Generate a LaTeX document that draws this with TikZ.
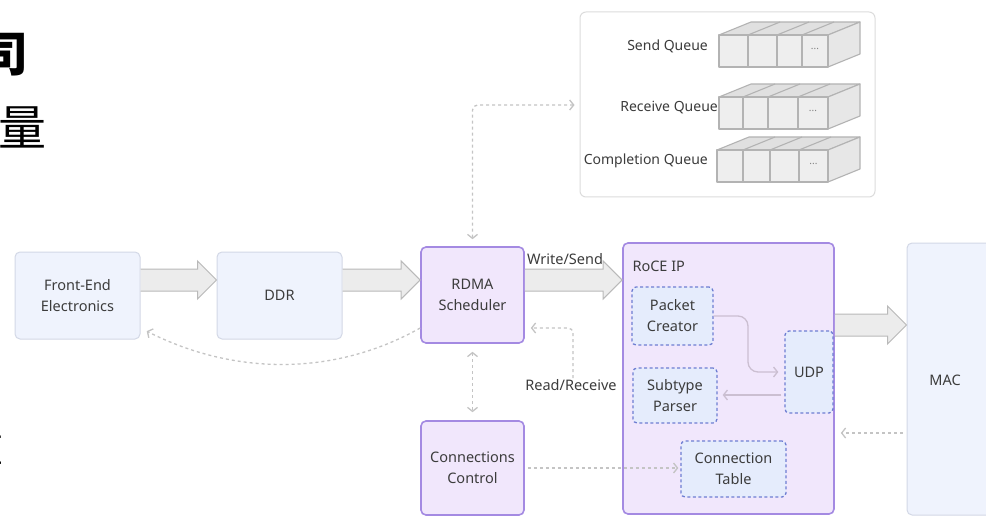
\documentclass[tikz,border=0pt]{standalone}
\usepackage{fontspec}
\setmainfont{Noto Sans}
\newfontfamily\cjk{Noto Sans CJK SC}
\usetikzlibrary{arrows.meta,calc}
\definecolor{txt}{HTML}{3C3C3C}
\definecolor{lfill}{HTML}{EFF3FD}
\definecolor{lbord}{HTML}{D3D8E6}
\definecolor{pfill}{HTML}{F1E7FC}
\definecolor{pbord}{HTML}{A48AE2}
\definecolor{dfill}{HTML}{E5ECFC}
\definecolor{dbord}{HTML}{6E7ED2}
\definecolor{afill}{HTML}{ECECEC}
\definecolor{abord}{HTML}{B9B9B9}
\definecolor{dgray}{HTML}{C4C4C4}
\definecolor{sline}{HTML}{CBBFD1}
\definecolor{panelb}{HTML}{DCDCDC}
\definecolor{qfront}{HTML}{EEEEEE}
\definecolor{qtop}{HTML}{E0E0E0}
\definecolor{qside}{HTML}{E7E7E7}
\definecolor{qline}{HTML}{B3B3B3}
\newcommand\fatarr[2]{\filldraw[fatstyle] ($(#1)+(0,-11)$) -- ($(#2)+(-19,-11)$) -- ($(#2)+(-19,-19)$) -- (#2) -- ($(#2)+(-19,19)$) -- ($(#2)+(-19,11)$) -- ($(#1)+(0,11)$);}
\newcommand\qbox[6]{%
  \filldraw[qstyle,fill=qtop] (#1,#2) -- ++(32,-13) -- (860,#2-13) -- (828,#2) -- cycle;
  \filldraw[qstyle,fill=qside] (828,#2) -- (860,#2-13) -- (860,#2+19) -- (828,#2+32) -- cycle;
  \filldraw[qstyle,fill=qfront] (#1,#2) rectangle (828,#2+32);
  \foreach \d in {#3,#4,#5} {\draw[qstyle] (\d,#2) -- ++(0,32); \draw[qstyle] (\d,#2) -- ++(32,-13);}
  \node[font=\fontsize{10}{10}\selectfont, text=gray] (#6) at ({(#5+828)/2},#2+14) {...};}
\begin{document}
\begin{tikzpicture}[x=1pt,y=-1pt, font=\fontsize{14.5}{21}\selectfont, text=txt,
  lbox/.style={draw=lbord, fill=lfill, rounded corners=5pt, line width=1pt, align=center, inner sep=0pt},
  pbox/.style={draw=pbord, fill=pfill, rounded corners=5pt, line width=1.6pt, align=center, inner sep=0pt},
  dbox/.style={draw=dbord, fill=dfill, dash pattern=on 3pt off 2.5pt, rounded corners=4pt, line width=1.3pt, align=center, inner sep=0pt},
  fatstyle/.style={fill=afill, draw=abord, line width=1pt},
  dotline/.style={draw=dgray, line width=1.3pt, dash pattern=on 3pt off 3pt},
  solidl/.style={draw=sline, line width=1.3pt},
  qstyle/.style={draw=qline, line width=1.1pt, line join=round},
  tipb/.tip={Straight Barb[length=4pt,width=10pt]}]
\useasboundingbox (0,0) rectangle (986,516);
\fill[white] (0,0) rectangle (986,516);
% helper rows
\coordinate (h105) at (0,105);
\coordinate (h280) at (0,280);
\coordinate (h325) at (0,325);
\coordinate (h328) at (0,328);
\coordinate (h395) at (0,395);
\coordinate (h433) at (0,433);
\coordinate (h468) at (0,468);
% Chinese fragments at the left edge
\node[font=\cjk\bfseries\fontsize{48}{48}\selectfont, text=black, inner sep=0pt, anchor=base east] (c1) at (29,72) {司};
\node[font=\cjk\fontsize{48}{48}\selectfont, text=black, inner sep=0pt, anchor=base east] (c2) at (47,146) {量};
\node[font=\cjk\fontsize{40}{40}\selectfont, text=black, inner sep=0pt, anchor=base east] (c3) at (4,462) {重};
% queue panel
\node[draw=panelb, fill=white, rounded corners=6pt, line width=1pt, minimum width=295pt, minimum height=185pt, inner sep=0pt] (qp) at (727.5,104.5) {};
\node[anchor=east, inner sep=1pt, font=\fontsize{14}{14}\selectfont] (sql) at (709,46) {Send Queue};
\node[anchor=east, inner sep=1pt, font=\fontsize{14}{14}\selectfont] (rql) at (719,108) {Receive Queue};
\node[anchor=east, inner sep=1pt, font=\fontsize{14}{14}\selectfont] (cql) at (709,161) {Completion Queue};
\qbox{719}{35}{748}{777}{802}{sqd}
\qbox{719}{97}{743}{768}{798}{rqd}
\qbox{717}{150}{743}{770}{799}{cqd}
% main boxes
\node[lbox, minimum width=125pt, minimum height=87pt] (fe) at (77.5,295.5) {Front-End\\Electronics};
\node[lbox, minimum width=125pt, minimum height=87pt] (ddr) at (279.5,295.5) {DDR};
\node[pbox, minimum width=103pt, minimum height=96pt] (rdma) at (472.5,295) {RDMA\\Scheduler};
\node[pbox, minimum width=103pt, minimum height=94pt] (cc) at (472.5,468) {Connections\\Control};
\node[pbox, minimum width=211pt, minimum height=271pt] (roce) at (728.5,378.5) {};
\node[anchor=west] (rocel) at (629,266) {RoCE IP};
\node[lbox, minimum width=85pt, minimum height=272pt] (mac) at (949.5,379) {};
\node (macl) at (945,380) {MAC};
\node[dbox, minimum width=81pt, minimum height=58pt] (pc) at (672.5,316) {Packet\\Creator};
\node[dbox, minimum width=84pt, minimum height=55pt] (sp) at (675,395.5) {Subtype\\Parser};
\node[dbox, minimum width=105pt, minimum height=56pt] (ct) at (733.5,469) {Connection\\Table};
\node[dbox, minimum width=48pt, minimum height=82pt] (udp) at (809,372) {UDP};
% fat arrows
\fatarr{fe.east |- h280}{ddr.west |- h280}
\fatarr{ddr.east |- h280}{rdma.west |- h280}
\fatarr{rdma.east |- h280}{roce.west |- h280}
\fatarr{roce.east |- h325}{mac.west |- h325}
\node (wsl) at (565,259) {Write/Send};
% dotted connectors
\draw[dotline, tipb-tipb, shorten <=7pt, shorten >=5pt, rounded corners=5pt] (rdma.north) |- (qp.west |- h105);
\draw[dotline, tipb-tipb, shorten <=8pt, shorten >=8pt] (rdma.south) -- (cc.north);
\draw[dotline, -tipb, shorten >=7pt] (rdma.west |- h328) .. controls (335,376) and (235,376) .. (fe.east |- h328);
\node[inner sep=1pt] (rrl) at (571,385) {Read/Receive};
\coordinate (rrbend) at (573,328);
\draw[dotline, -tipb, shorten >=6pt, rounded corners=5pt] (rrl.north -| rrbend) -- (rrbend) -- (rdma.east |- h328);
\draw[dotline, -tipb, shorten <=4pt, shorten >=6pt] (mac.west |- h433) -- (roce.east |- h433);
\draw[dotline, -tipb, shorten <=3pt, shorten >=2pt] (cc.east |- h468) -- (ct.west |- h468);
% solid connectors inside RoCE IP
\coordinate (pcbend) at (748,344);
\draw[solidl, -tipb, rounded corners=10pt, shorten >=6pt] (pc.east) -| (pcbend) |- (udp.west);
\draw[solidl, -tipb, shorten <=3pt, shorten >=5pt] (udp.west |- h395) -- (sp.east |- h395);
\end{tikzpicture}
\end{document}
